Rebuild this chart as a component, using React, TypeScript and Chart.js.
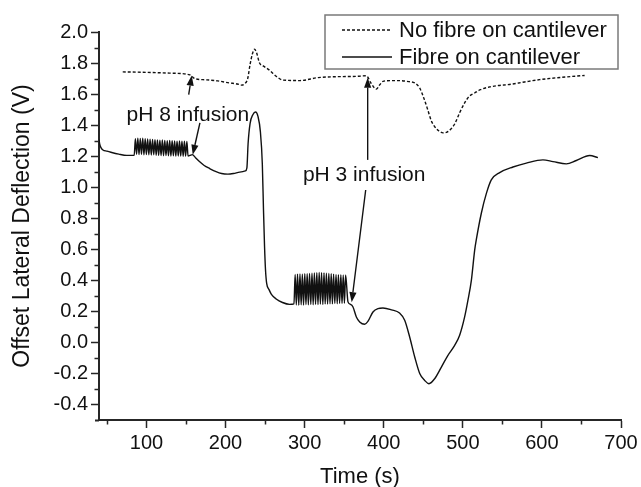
import React, { useEffect, useRef } from 'react';
import { Chart, registerables } from 'chart.js';

Chart.register(...registerables);

// ---------- Data ----------
// Axis ticks
const xTickValues = [100, 200, 300, 400, 500, 600, 700];
const xMinorTicks = [50, 150, 250, 350, 450, 550, 650];
const yTickValues = [-0.4, -0.2, 0.0, 0.2, 0.4, 0.6, 0.8, 1.0, 1.2, 1.4, 1.6, 1.8, 2.0];
const yMinorTicks = [-0.3, -0.1, 0.1, 0.3, 0.5, 0.7, 0.9, 1.1, 1.3, 1.5, 1.7, 1.9];

// Series 1: No fibre on cantilever (dashed)
const noFibreTime = [70, 100, 130, 155, 158, 161, 175, 190, 205, 215, 220, 224, 228, 231, 234, 236.5, 239, 243, 248, 256, 264, 273, 294, 317, 340, 365, 378, 384, 390.7, 395, 399, 410, 420, 432, 439, 445.4, 451, 455.6, 460, 464.4, 469, 475, 480, 485, 490, 496, 502.3, 508, 515, 522, 534, 545, 559, 578, 597, 625, 654];
const noFibreV = [1.743, 1.740, 1.735, 1.724, 1.712, 1.70, 1.692, 1.685, 1.672, 1.665, 1.658, 1.665, 1.70, 1.79, 1.86, 1.889, 1.87, 1.80, 1.78, 1.752, 1.715, 1.69, 1.687, 1.706, 1.712, 1.714, 1.718, 1.67, 1.632, 1.66, 1.682, 1.687, 1.687, 1.68, 1.672, 1.64, 1.57, 1.50, 1.43, 1.39, 1.365, 1.35, 1.355, 1.375, 1.41, 1.48, 1.543, 1.585, 1.607, 1.628, 1.646, 1.655, 1.662, 1.678, 1.693, 1.708, 1.72];

// Series 2: Fibre on cantilever (solid), in segments
const fibreStartTime = [40, 41, 42.5, 45, 50, 55, 65, 75, 84.5];
const fibreStartV = [1.306, 1.275, 1.255, 1.24, 1.232, 1.225, 1.213, 1.205, 1.205];

const pH8OscTime = [86.0, 87.5, 89.1, 90.6, 92.2, 93.7, 95.3, 96.8, 98.4, 99.9, 101.5, 103.0, 104.6, 106.1, 107.7, 109.2, 110.8, 112.3, 113.9, 115.4, 117.0, 118.5, 120.1, 121.6, 123.2, 124.7, 126.3, 127.8, 129.4, 130.9, 132.5, 134.0, 135.6, 137.1, 138.7, 140.2, 141.8, 143.3, 144.9, 146.4, 148.0, 149.5, 151.1, 152.6];
const pH8OscV = [1.312, 1.212, 1.315, 1.210, 1.314, 1.212, 1.316, 1.209, 1.313, 1.210, 1.311, 1.208, 1.310, 1.207, 1.308, 1.209, 1.306, 1.206, 1.305, 1.205, 1.303, 1.204, 1.304, 1.203, 1.302, 1.204, 1.300, 1.202, 1.301, 1.201, 1.299, 1.202, 1.298, 1.200, 1.297, 1.201, 1.298, 1.200, 1.296, 1.199, 1.297, 1.200, 1.295, 1.201];

const fibreMidTime = [155, 158, 162, 167, 173, 180, 188, 195, 203, 210, 218, 225, 227, 228.5, 231, 234.5, 238, 241, 244, 246.5, 248, 249.3, 250.5, 252, 255, 258, 264, 272, 281, 286.5];
const fibreMidV = [1.205, 1.21, 1.19, 1.165, 1.14, 1.12, 1.10, 1.088, 1.084, 1.088, 1.097, 1.105, 1.125, 1.28, 1.41, 1.467, 1.485, 1.456, 1.36, 1.15, 0.85, 0.62, 0.47, 0.38, 0.34, 0.31, 0.28, 0.257, 0.245, 0.248];

const pH3OscTime = [288.0, 289.5, 291.0, 292.6, 294.1, 295.6, 297.1, 298.6, 300.2, 301.7, 303.2, 304.7, 306.2, 307.8, 309.3, 310.8, 312.3, 313.8, 315.4, 316.9, 318.4, 319.9, 321.4, 323.0, 324.5, 326.0, 327.5, 329.0, 330.6, 332.1, 333.6, 335.1, 336.6, 338.2, 339.7, 341.2, 342.7, 344.2, 345.8, 347.3, 348.8, 350.3, 351.8];
const pH3OscV = [0.438, 0.242, 0.440, 0.240, 0.441, 0.243, 0.439, 0.241, 0.442, 0.244, 0.443, 0.242, 0.444, 0.245, 0.446, 0.243, 0.447, 0.246, 0.449, 0.244, 0.450, 0.247, 0.449, 0.245, 0.448, 0.248, 0.446, 0.247, 0.444, 0.249, 0.442, 0.248, 0.440, 0.250, 0.438, 0.249, 0.437, 0.251, 0.436, 0.250, 0.435, 0.252, 0.434];

const fibreEndTime = [354.8, 358, 361, 365.4, 369.6, 375.9, 380, 386.4, 392.7, 399, 410, 420, 426.5, 432.8, 439.2, 445.5, 451.8, 457.2, 464.4, 472.9, 481.2, 489.7, 496, 502.3, 506.5, 510.8, 515, 517, 523.4, 529.8, 536, 546.6, 563.4, 580.3, 601.3, 614, 630.9, 643.5, 660.4, 670.8];
const fibreEndV = [0.261, 0.245, 0.23, 0.164, 0.132, 0.117, 0.135, 0.196, 0.218, 0.222, 0.21, 0.19, 0.143, 0.035, -0.094, -0.2, -0.245, -0.266, -0.234, -0.159, -0.083, -0.019, 0.046, 0.164, 0.272, 0.40, 0.595, 0.66, 0.832, 0.96, 1.047, 1.094, 1.13, 1.155, 1.176, 1.165, 1.15, 1.172, 1.204, 1.191];

// Legend
const seriesLabels = ['No fibre on cantilever', 'Fibre on cantilever'];

// Annotations (data coordinates)
const annotationLabels = ['pH 8 infusion', 'pH 3 infusion'];
const annotationX = [152.4, 375.3];
const annotationY = [1.467, 1.079];
const arrowTailX = [153.4, 167.6, 379.7, 377.2];
const arrowTailY = [1.596, 1.415, 1.176, 0.982];
const arrowTipX = [157.2, 158.5, 379.7, 359.5];
const arrowTipY = [1.719, 1.209, 1.706, 0.259];

// ---------- Helpers ----------
const FONT = "'Liberation Sans', Arial, Helvetica, sans-serif";
const INK = '#111';
const AXIS = '#262626';

const zip = (xs: number[], ys: number[]) => xs.map((x, i) => ({ x, y: ys[i] }));

const fibrePoints = [
  ...zip(fibreStartTime, fibreStartV),
  ...zip(pH8OscTime, pH8OscV),
  ...zip(fibreMidTime, fibreMidV),
  ...zip(pH3OscTime, pH3OscV),
  ...zip(fibreEndTime, fibreEndV),
];
const noFibrePoints = zip(noFibreTime, noFibreV);

const overlayPlugin = {
  id: 'overlay',
  afterDraw(chart: any) {
    const { ctx, chartArea } = chart;
    const xs = chart.scales.x;
    const ys = chart.scales.y;
    ctx.save();

    // small extension of the x axis line to the left of the y axis
    ctx.strokeStyle = AXIS;
    ctx.lineWidth = 2;
    ctx.beginPath();
    ctx.moveTo(chartArea.left - 4, chartArea.bottom + 0.5);
    ctx.lineTo(chartArea.left, chartArea.bottom + 0.5);
    ctx.stroke();

    // minor ticks
    ctx.lineWidth = 1.5;
    ctx.beginPath();
    for (const v of xMinorTicks) {
      const px = Math.round(xs.getPixelForValue(v)) + 0.5;
      ctx.moveTo(px, chartArea.bottom);
      ctx.lineTo(px, chartArea.bottom + 4.5);
    }
    for (const v of yMinorTicks) {
      const py = Math.round(ys.getPixelForValue(v)) + 0.5;
      ctx.moveTo(chartArea.left, py);
      ctx.lineTo(chartArea.left - 4.5, py);
    }
    ctx.stroke();

    // annotation texts
    ctx.fillStyle = INK;
    ctx.font = `21px ${FONT}`;
    ctx.textAlign = 'center';
    ctx.textBaseline = 'middle';
    annotationLabels.forEach((t, i) => {
      ctx.fillText(t, xs.getPixelForValue(annotationX[i]), ys.getPixelForValue(annotationY[i]));
    });

    // arrows
    ctx.strokeStyle = INK;
    ctx.lineWidth = 1.4;
    arrowTailX.forEach((_, i) => {
      const x0 = xs.getPixelForValue(arrowTailX[i]);
      const y0 = ys.getPixelForValue(arrowTailY[i]);
      const x1 = xs.getPixelForValue(arrowTipX[i]);
      const y1 = ys.getPixelForValue(arrowTipY[i]);
      const ang = Math.atan2(y1 - y0, x1 - x0);
      const len = 10;
      const hw = 3.6;
      const bx = x1 - len * Math.cos(ang);
      const by = y1 - len * Math.sin(ang);
      ctx.beginPath();
      ctx.moveTo(x0, y0);
      ctx.lineTo(bx, by);
      ctx.stroke();
      ctx.beginPath();
      ctx.moveTo(x1, y1);
      ctx.lineTo(bx + hw * Math.sin(ang), by - hw * Math.cos(ang));
      ctx.lineTo(bx - hw * Math.sin(ang), by + hw * Math.cos(ang));
      ctx.closePath();
      ctx.fill();
    });

    // legend
    const right = chartArea.right - 3;
    const left = right - 293;
    const top = 15;
    const bottom = 69;
    ctx.strokeStyle = '#7a7a7a';
    ctx.lineWidth = 1.5;
    ctx.strokeRect(left, top, right - left, bottom - top);
    const rowY = [30, 57];
    const dashes = [[3, 2], []];
    seriesLabels.forEach((label, i) => {
      ctx.strokeStyle = INK;
      ctx.lineWidth = 1.4;
      ctx.setLineDash(dashes[i]);
      ctx.beginPath();
      ctx.moveTo(left + 17, rowY[i]);
      ctx.lineTo(left + 67, rowY[i]);
      ctx.stroke();
      ctx.setLineDash([]);
      ctx.fillStyle = INK;
      ctx.font = `22px ${FONT}`;
      ctx.textAlign = 'left';
      ctx.textBaseline = 'middle';
      ctx.fillText(label, left + 74, rowY[i] + 1);
    });

    ctx.restore();
  },
};

export default function App() {
  const ref = useRef<HTMLCanvasElement>(null);

  useEffect(() => {
    if (!ref.current) return;
    const tickFont = { size: 20, family: FONT };
    const chart = new Chart(ref.current, {
      type: 'line',
      data: {
        datasets: [
          {
            label: seriesLabels[0],
            data: noFibrePoints,
            borderColor: INK,
            borderWidth: 1.4,
            borderDash: [3, 2],
            pointRadius: 0,
            fill: false,
            cubicInterpolationMode: 'monotone',
          },
          {
            label: seriesLabels[1],
            data: fibrePoints,
            borderColor: INK,
            borderWidth: 1.4,
            pointRadius: 0,
            fill: false,
            cubicInterpolationMode: 'monotone',
          },
        ],
      },
      options: {
        animation: false,
        responsive: false,
        maintainAspectRatio: false,
        events: [],
        layout: { padding: { left: 0, top: 32, right: 20, bottom: 0 } },
        plugins: { legend: { display: false }, tooltip: { enabled: false } },
        scales: {
          x: {
            type: 'linear',
            min: 40,
            max: 700,
            afterBuildTicks: (s: any) => {
              s.ticks = xTickValues.map((v) => ({ value: v }));
            },
            afterFit: (s: any) => {
              s.height = 67;
            },
            ticks: {
              callback: (v: any) => String(v),
              font: tickFont,
              color: INK,
              padding: 3,
              maxRotation: 0,
              autoSkip: false,
            },
            grid: {
              drawOnChartArea: false,
              drawTicks: true,
              tickLength: 8,
              tickWidth: 1.5,
              tickColor: AXIS,
            },
            border: { display: true, color: AXIS, width: 2 },
            title: {
              display: true,
              text: 'Time (s)',
              color: INK,
              font: { size: 22, family: FONT, lineHeight: 0.9 },
              padding: { top: 0, bottom: 0 },
            },
          },
          y: {
            type: 'linear',
            min: -0.5,
            max: 2.0,
            afterBuildTicks: (s: any) => {
              s.ticks = yTickValues.map((v) => ({ value: v }));
            },
            afterFit: (s: any) => {
              s.width = 99;
            },
            ticks: {
              callback: (v: any) => Number(v).toFixed(1),
              font: tickFont,
              color: INK,
              padding: 3,
              autoSkip: false,
            },
            grid: {
              drawOnChartArea: false,
              drawTicks: true,
              tickLength: 8,
              tickWidth: 1.5,
              tickColor: AXIS,
            },
            border: { display: true, color: AXIS, width: 2 },
            title: {
              display: true,
              text: 'Offset Lateral Deflection (V)',
              color: INK,
              font: { size: 23, family: FONT },
              padding: { top: 9, bottom: 0 },
            },
          },
        },
      },
      plugins: [overlayPlugin],
    } as any);
    return () => chart.destroy();
  }, []);

  return (
    <div style={{ position: 'fixed', left: 0, top: 0, width: 641, height: 487, background: '#fff' }}>
      <canvas ref={ref} width={641} height={487} style={{ width: 641, height: 487, display: 'block' }} />
    </div>
  );
}
